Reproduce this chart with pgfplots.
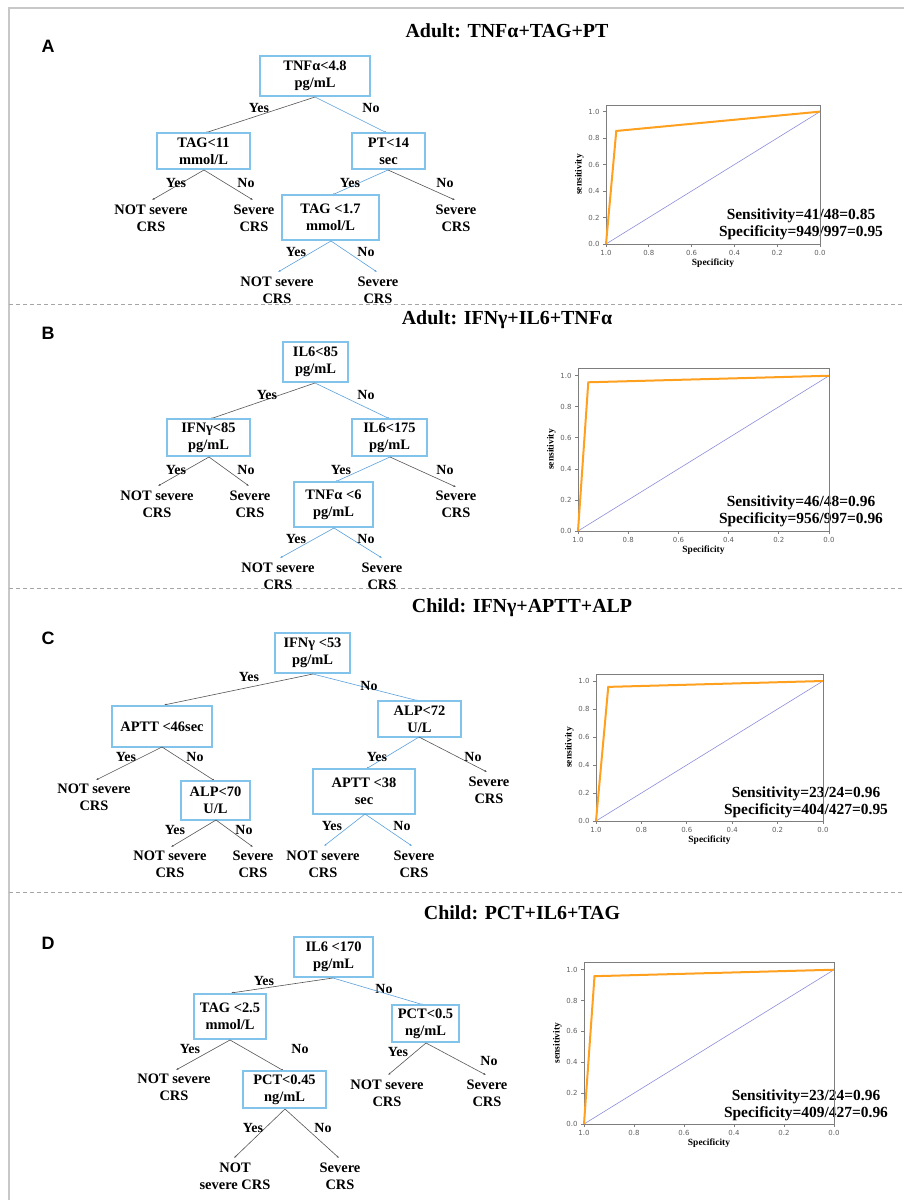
\documentclass[border=0pt]{standalone}
\usepackage{fontspec}
\setmainfont{Liberation Serif}
\newfontfamily\arialf{Liberation Sans}
\newfontfamily\dejaf{DejaVu Sans}
\usepackage{pgfplots}
\pgfplotsset{compat=1.18}
\usetikzlibrary{arrows.meta}
\definecolor{boxblue}{RGB}{130,195,235}
\definecolor{edgeblue}{RGB}{90,160,220}
\definecolor{edgegray}{RGB}{85,85,85}
\definecolor{rocorange}{RGB}{255,160,30}
\definecolor{diagblue}{RGB}{140,140,220}
\definecolor{framegray}{RGB}{200,200,200}
\definecolor{dashgray}{RGB}{165,165,165}
\definecolor{axisgray}{RGB}{125,125,125}
\definecolor{tickgray}{RGB}{95,95,95}
\pgfplotsset{roc/.style={
  scale only axis, anchor=south west,
  xmin=0, xmax=1, ymin=0, ymax=1.05, x dir=reverse,
  xtick={0,0.2,0.4,0.6,0.8,1}, ytick={0,0.2,0.4,0.6,0.8,1},
  /pgf/number format/.cd, fixed, fixed zerofill, precision=1, assume math mode=true, /pgfplots/.cd,
  tick label style={font=\dejaf\fontsize{7}{8}\selectfont, text=tickgray},
  xticklabel style={yshift=0.5bp},
  tick align=outside, tick pos=left, major tick length=3bp,
  axis line style={draw=axisgray, line width=1bp},
  every tick/.style={draw=axisgray, line width=0.8bp},
  xlabel={Specificity}, ylabel={sensitivity},
  label style={font=\bfseries\fontsize{9.5}{11}\selectfont},
  xlabel style={yshift=3bp}, ylabel style={yshift=-2bp},
  clip=false,
}}
\tikzset{
  tt/.style={font=\bfseries\fontsize{14.5}{17}\selectfont, align=center, inner sep=0pt},
  lbl/.style={font=\bfseries\fontsize{14}{16}\selectfont, inner sep=0pt},
  eg/.style={draw=edgegray, line width=0.6bp, -{Latex[length=2.5bp,width=2bp]}},
  eb/.style={draw=edgeblue, line width=0.6bp, -{Latex[length=2.5bp,width=2bp]}},
  ttl/.style={font=\bfseries\fontsize{20}{22}\selectfont, inner sep=0pt, anchor=base},
  pl/.style={font=\arialf\bfseries\fontsize{18}{20}\selectfont, inner sep=0pt},
  stat/.style={font=\bfseries\fontsize{15.5}{17}\selectfont, align=center, inner sep=0pt},
}
\newcommand{\bx}[5]{\draw[boxblue, line width=1.1bp] (#1,#2) rectangle (#3,#4); \node[tt] at ({(#1+#3)/2},{(#2+#4)/2}) {#5};}
\begin{document}
\begin{tikzpicture}
\path[use as bounding box] (0bp,0bp) rectangle (904bp,-1200bp);
\begin{scope}[x=1bp, y=-1bp]
% frame
\draw[framegray, line width=1.5bp] (9,1200) -- (9,8) -- (904,8);
\foreach \yy in {304,588,892} \draw[dashgray, line width=1bp, dash pattern=on 4bp off 3bp] (9,\yy) -- (904,\yy);
% ---------- Panel A ----------
\node[ttl] at (507,37) {Adult: TNFα+TAG+PT};
\node[pl] at (48,46) {A};
\bx{260}{56}{370}{96}{TNFα<4.8\\pg/mL}
\draw[eg] (315,97) -- (205,133);
\draw[eb] (315,97) -- (387,133);
\node[lbl] at (259,108) {Yes};
\node[lbl] at (371,108) {No};
\bx{157}{133}{250}{169}{TAG<11\\mmol/L}
\bx{352}{133}{425}{169}{PT<14\\sec}
\draw[eg] (204,170) -- (152,200);
\draw[eg] (204,170) -- (253,200);
\node[lbl] at (176,183) {Yes};
\node[lbl] at (246,183) {No};
\node[tt] at (151,218) {NOT severe\\CRS};
\node[tt] at (254,218) {Severe\\CRS};
\draw[eb] (388,170) -- (332,195);
\draw[eg] (388,170) -- (455,200);
\node[lbl] at (350,183) {Yes};
\node[lbl] at (445,183) {No};
\node[tt] at (456,218) {Severe\\CRS};
\bx{282}{195}{379}{240}{TAG <1.7\\mmol/L}
\draw[eb] (331,241) -- (278,272);
\draw[eb] (331,241) -- (377,272);
\node[lbl] at (296,252) {Yes};
\node[lbl] at (366,252) {No};
\node[tt] at (277,290) {NOT severe\\CRS};
\node[tt] at (378,290) {Severe\\CRS};
\node[stat] at (801,224) {Sensitivity=41/48=0.85\\Specificity=949/997=0.95};
% ---------- Panel B ----------
\node[ttl] at (507,324) {Adult: IFNγ+IL6+TNFα};
\node[pl] at (48,333) {B};
\bx{283}{342}{348}{382}{IL6<85\\pg/mL}
\draw[eg] (315,383) -- (210,419);
\draw[eb] (315,383) -- (390,419);
\node[lbl] at (267,395) {Yes};
\node[lbl] at (366,395) {No};
\bx{167}{419}{250}{456}{IFNγ<85\\pg/mL}
\bx{352}{419}{427}{456}{IL6<175\\pg/mL}
\draw[eg] (209,457) -- (158,486);
\draw[eg] (209,457) -- (249,486);
\node[lbl] at (176,470) {Yes};
\node[lbl] at (246,470) {No};
\node[tt] at (157,504.5) {NOT severe\\CRS};
\node[tt] at (250,504.5) {Severe\\CRS};
\draw[eb] (390,457) -- (335,482);
\draw[eg] (390,457) -- (456,487);
\node[lbl] at (341,470) {Yes};
\node[lbl] at (445,470) {No};
\node[tt] at (456,504.5) {Severe\\CRS};
\bx{294}{482}{373}{527}{TNFα <6\\pg/mL}
\draw[eb] (334,528) -- (280,558);
\draw[eb] (334,528) -- (382,558);
\node[lbl] at (296,539) {Yes};
\node[lbl] at (366,539) {No};
\node[tt] at (278,576.5) {NOT severe\\CRS};
\node[tt] at (382,576.5) {Severe\\CRS};
\node[stat] at (801,511.5) {Sensitivity=46/48=0.96\\Specificity=956/997=0.96};
% ---------- Panel C ----------
\node[ttl] at (522,612) {Child: IFNγ+APTT+ALP};
\node[pl] at (48,638) {C};
\bx{275}{633}{350}{673}{IFNγ <53\\pg/mL}
\draw[eg] (313,674) -- (164,705);
\draw[eb] (313,674) -- (419,701);
\node[lbl] at (249,677) {Yes};
\node[lbl] at (369,686) {No};
\bx{112}{706}{212}{747}{APTT <46sec}
\bx{378}{701}{461}{737}{ALP<72\\U/L}
\draw[eg] (162,747) -- (96,780);
\draw[eg] (162,747) -- (215,781);
\node[lbl] at (126,757) {Yes};
\node[lbl] at (195,757) {No};
\node[tt] at (94,797.5) {NOT severe\\CRS};
\bx{181}{781}{250}{820}{ALP<70\\U/L}
\draw[eb] (419,737) -- (366,769);
\draw[eg] (419,737) -- (487,772);
\node[lbl] at (377,757) {Yes};
\node[lbl] at (473,757) {No};
\node[tt] at (489,790) {Severe\\CRS};
\bx{313}{769}{415}{814}{APTT <38\\sec}
\draw[eg] (216,820) -- (171,847);
\draw[eg] (216,820) -- (253,847);
\node[lbl] at (175,830) {Yes};
\node[lbl] at (244,830) {No};
\node[tt] at (170,864) {NOT severe\\CRS};
\node[tt] at (253,864) {Severe\\CRS};
\draw[eb] (365,814) -- (324,846);
\draw[eb] (365,814) -- (412,846);
\node[lbl] at (332,826) {Yes};
\node[lbl] at (402,826) {No};
\node[tt] at (323,864) {NOT severe\\CRS};
\node[tt] at (414,864) {Severe\\CRS};
\node[stat] at (806,802.5) {Sensitivity=23/24=0.96\\Specificity=404/427=0.95};
% ---------- Panel D ----------
\node[ttl] at (522,919) {Child: PCT+IL6+TAG};
\node[pl] at (48,943) {D};
\bx{294}{937}{373}{977}{IL6 <170\\pg/mL}
\draw[eg] (333,978) -- (231,993);
\draw[eb] (333,978) -- (424,1005);
\node[lbl] at (264,981) {Yes};
\node[lbl] at (384,989) {No};
\bx{194}{994}{266}{1039}{TAG <2.5\\mmol/L}
\bx{392}{1005}{459}{1042}{PCT<0.5\\ng/mL}
\draw[eg] (230,1040) -- (176,1070);
\draw[eg] (230,1040) -- (284,1071);
\node[lbl] at (190,1049) {Yes};
\node[lbl] at (300,1049) {No};
\node[tt] at (174,1087.5) {NOT severe\\CRS};
\bx{243}{1071}{326}{1108}{PCT<0.45\\ng/mL}
\draw[eg] (426,1043) -- (388,1075);
\draw[eg] (426,1043) -- (486,1075);
\node[lbl] at (398,1052) {Yes};
\node[lbl] at (489,1061) {No};
\node[tt] at (387,1093.5) {NOT severe\\CRS};
\node[tt] at (487,1093.5) {Severe\\CRS};
\draw[eg] (285,1109) -- (234,1158);
\draw[eg] (285,1109) -- (339,1158);
\node[lbl] at (253,1128) {Yes};
\node[lbl] at (323,1128) {No};
\node[tt] at (235,1176.5) {NOT\\severe CRS};
\node[tt] at (340,1176.5) {Severe\\CRS};
\node[stat] at (806,1105.5) {Sensitivity=23/24=0.96\\Specificity=409/427=0.96};
\end{scope}
% ---------- ROC axes ----------
\begin{axis}[roc, at={(606bp,-244bp)}, width=214bp, height=139bp]
\addplot[diagblue, line width=0.6bp] coordinates {(1,0) (0,1)};
\addplot[rocorange, line width=2bp] coordinates {(1,0) (0.952,0.854) (0,1)};
\end{axis}
\begin{axis}[roc, at={(578bp,-531bp)}, width=251bp, height=163bp]
\addplot[diagblue, line width=0.6bp] coordinates {(1,0) (0,1)};
\addplot[rocorange, line width=2bp] coordinates {(1,0) (0.959,0.958) (0,1)};
\end{axis}
\begin{axis}[roc, at={(596bp,-821bp)}, width=227bp, height=147bp]
\addplot[diagblue, line width=0.6bp] coordinates {(1,0) (0,1)};
\addplot[rocorange, line width=2bp] coordinates {(1,0) (0.946,0.958) (0,1)};
\end{axis}
\begin{axis}[roc, at={(584bp,-1124bp)}, width=250bp, height=162bp]
\addplot[diagblue, line width=0.6bp] coordinates {(1,0) (0,1)};
\addplot[rocorange, line width=2bp] coordinates {(1,0) (0.958,0.958) (0,1)};
\end{axis}
\end{tikzpicture}
\end{document}
